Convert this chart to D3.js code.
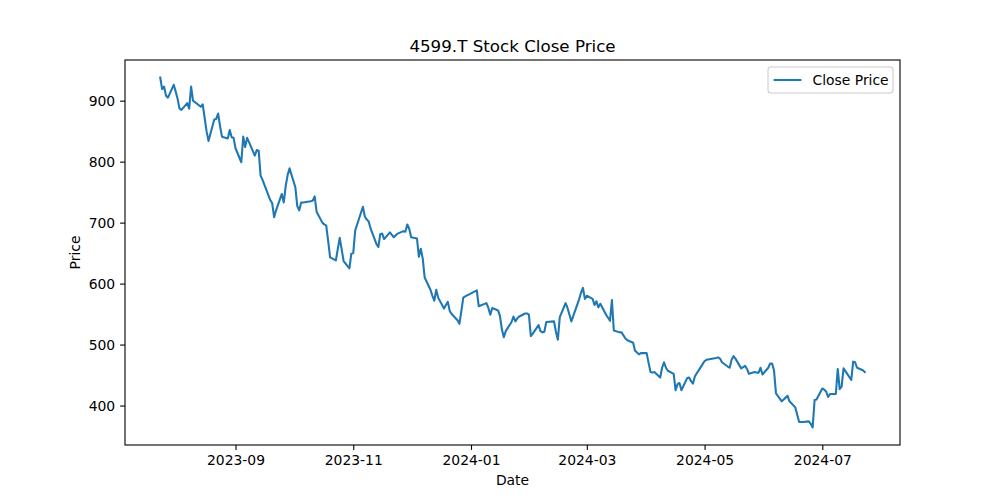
<!DOCTYPE html>
<html>
<head>
<meta charset="utf-8">
<script src="https://cdn.jsdelivr.net/npm/d3@7"></script>
<style>
  html, body { margin: 0; padding: 0; background: #fff; }
  svg { display: block; font-family: "DejaVu Sans", sans-serif; }
</style>
</head>
<body>
<svg id="chart" width="1000" height="500"></svg>
<script>
const chartTitle = "4599.T Stock Close Price";
const seriesName = "Close Price";
const xLabel = "Date";
const yLabel = "Price";

const dates = [
  "2023-07-24","2023-07-25","2023-07-26","2023-07-27","2023-07-28","2023-07-31",
  "2023-08-01","2023-08-02","2023-08-03","2023-08-04","2023-08-07","2023-08-08","2023-08-09","2023-08-10",
  "2023-08-14","2023-08-15","2023-08-16","2023-08-17","2023-08-18","2023-08-21","2023-08-22","2023-08-23",
  "2023-08-24","2023-08-25","2023-08-28","2023-08-29","2023-08-30","2023-08-31",
  "2023-09-01","2023-09-04","2023-09-05","2023-09-06","2023-09-07","2023-09-08","2023-09-11","2023-09-12",
  "2023-09-13","2023-09-14","2023-09-15","2023-09-19","2023-09-20","2023-09-21","2023-09-22","2023-09-25",
  "2023-09-26","2023-09-27","2023-09-28","2023-09-29",
  "2023-10-02","2023-10-03","2023-10-04","2023-10-05","2023-10-06","2023-10-10","2023-10-11","2023-10-12",
  "2023-10-13","2023-10-16","2023-10-17","2023-10-18","2023-10-19","2023-10-20","2023-10-23","2023-10-24",
  "2023-10-25","2023-10-26","2023-10-27","2023-10-30","2023-10-31",
  "2023-11-01","2023-11-02","2023-11-06","2023-11-07","2023-11-08","2023-11-09","2023-11-10","2023-11-13",
  "2023-11-14","2023-11-15","2023-11-16","2023-11-17","2023-11-20","2023-11-21","2023-11-22","2023-11-24",
  "2023-11-27","2023-11-28","2023-11-29","2023-11-30",
  "2023-12-01","2023-12-04","2023-12-05","2023-12-06","2023-12-07","2023-12-08","2023-12-11","2023-12-12",
  "2023-12-13","2023-12-14","2023-12-15","2023-12-18","2023-12-19","2023-12-20","2023-12-21","2023-12-22",
  "2023-12-25","2023-12-26","2023-12-27","2023-12-28","2023-12-29",
  "2024-01-04","2024-01-05","2024-01-09","2024-01-10","2024-01-11","2024-01-12","2024-01-15","2024-01-16",
  "2024-01-17","2024-01-18","2024-01-19","2024-01-22","2024-01-23","2024-01-24","2024-01-25","2024-01-26",
  "2024-01-29","2024-01-30","2024-01-31",
  "2024-02-01","2024-02-02","2024-02-05","2024-02-06","2024-02-07","2024-02-08","2024-02-09","2024-02-13",
  "2024-02-14","2024-02-15","2024-02-16","2024-02-19","2024-02-20","2024-02-21","2024-02-22","2024-02-26",
  "2024-02-27","2024-02-28","2024-02-29",
  "2024-03-01","2024-03-04","2024-03-05","2024-03-06","2024-03-07","2024-03-08","2024-03-11","2024-03-12",
  "2024-03-13","2024-03-14","2024-03-15","2024-03-18","2024-03-19","2024-03-21","2024-03-22","2024-03-25",
  "2024-03-26","2024-03-27","2024-03-28","2024-03-29",
  "2024-04-01","2024-04-02","2024-04-03","2024-04-04","2024-04-05","2024-04-08","2024-04-09","2024-04-10",
  "2024-04-11","2024-04-12","2024-04-15","2024-04-16","2024-04-17","2024-04-18","2024-04-19","2024-04-22",
  "2024-04-23","2024-04-24","2024-04-25","2024-04-26","2024-04-30",
  "2024-05-01","2024-05-02","2024-05-07","2024-05-08","2024-05-09","2024-05-10","2024-05-13","2024-05-14",
  "2024-05-15","2024-05-16","2024-05-17","2024-05-20","2024-05-21","2024-05-22","2024-05-23","2024-05-24",
  "2024-05-27","2024-05-28","2024-05-29","2024-05-30","2024-05-31",
  "2024-06-03","2024-06-04","2024-06-05","2024-06-06","2024-06-07","2024-06-10","2024-06-11","2024-06-12",
  "2024-06-13","2024-06-14","2024-06-17","2024-06-18","2024-06-19","2024-06-20","2024-06-21","2024-06-24",
  "2024-06-25","2024-06-26","2024-06-27","2024-06-28",
  "2024-07-01","2024-07-02","2024-07-03","2024-07-04","2024-07-05","2024-07-08","2024-07-09","2024-07-10",
  "2024-07-11","2024-07-12","2024-07-16","2024-07-17","2024-07-18","2024-07-19","2024-07-22","2024-07-23"
];

const closePrices = [
  938,919,923,908,905,926,
  915,903,887,885,896,887,923,900,
  890,894,872,850,834,869,870,879,
  858,841,838,852,840,839,
  822,799,841,824,839,832,810,819,
  818,777,770,737,732,709,720,747,
  733,760,778,789,
  758,727,720,733,733,735,736,743,
  718,700,697,695,670,643,638,657,
  675,656,637,625,649,
  650,687,726,710,705,702,690,665,
  660,681,682,673,684,680,676,682,
  686,685,697,690,
  676,674,644,657,641,610,590,580,
  572,590,577,559,565,570,555,550,
  540,534,555,577,579,
  589,563,568,560,549,560,556,547,
  525,512,522,537,546,538,543,546,
  551,551,549,
  514,518,532,522,520,521,537,538,
  521,508,545,568,560,549,538,574,
  585,593,575,
  580,575,565,571,561,567,549,544,
  539,573,523,520,520,510,507,503,
  490,487,484,486,
  486,470,455,454,455,446,462,471,
  462,457,452,425,435,437,425,445,
  446,440,436,448,468,
  473,475,478,479,477,471,464,462,
  475,481,477,461,463,465,460,452,
  455,454,454,462,451,
  462,469,469,457,420,407,410,413,
  416,407,397,385,373,373,373,374,
  370,364,409,410,
  428,426,423,414,419,419,460,427,
  431,461,442,472,471,462,458,455
];

const yTicks = [400, 500, 600, 700, 800, 900];
const xTickLabels = ["2023-09","2023-11","2024-01","2024-03","2024-05","2024-07"];

const parse = d3.timeParse("%Y-%m-%d");
const parseMonth = d3.timeParse("%Y-%m");
const data = dates.map((d, i) => ({ date: parse(d), value: closePrices[i] }));

const W = 1000, H = 500;
const m = { left: 125, right: 900, top: 60, bottom: 445 };

const xExt = d3.extent(data, d => d.date);
const xSpan = xExt[1] - xExt[0];
const x = d3.scaleTime()
  .domain([new Date(+xExt[0] - 0.05 * xSpan), new Date(+xExt[1] + 0.05 * xSpan)])
  .range([m.left, m.right]);

const yExt = d3.extent(data, d => d.value);
const ySpan = yExt[1] - yExt[0];
const y = d3.scaleLinear()
  .domain([yExt[0] - 0.05 * ySpan, yExt[1] + 0.05 * ySpan])
  .range([m.bottom, m.top]);

const svg = d3.select("#chart");
svg.append("rect").attr("width", W).attr("height", H).attr("fill", "#fff");

const fs = 13.9;

// line
const line = d3.line().x(d => x(d.date)).y(d => y(d.value));
svg.append("path")
  .datum(data)
  .attr("fill", "none")
  .attr("stroke", "#1f77b4")
  .attr("stroke-width", 2.08)
  .attr("stroke-linejoin", "round")
  .attr("stroke-linecap", "square")
  .attr("d", line);

// axes
const xAxis = d3.axisBottom(x)
  .tickValues(xTickLabels.map(parseMonth))
  .tickFormat(d3.timeFormat("%Y-%m"))
  .tickSize(4.9).tickPadding(4.9);
const gx = svg.append("g").attr("transform", `translate(0,${m.bottom})`).call(xAxis);

const yAxis = d3.axisLeft(y)
  .tickValues(yTicks)
  .tickSize(4.9).tickPadding(4.9);
const gy = svg.append("g").attr("transform", `translate(${m.left},0)`).call(yAxis);

[gx, gy].forEach(g => {
  g.select(".domain").remove();
  g.selectAll(".tick line").attr("stroke", "#000").attr("stroke-width", 1.1);
  g.selectAll(".tick text")
    .attr("fill", "#000")
    .style("font-family", "'DejaVu Sans', sans-serif")
    .style("font-size", fs + "px");
});

// frame
svg.append("rect")
  .attr("x", m.left).attr("y", m.top)
  .attr("width", m.right - m.left).attr("height", m.bottom - m.top)
  .attr("fill", "none").attr("stroke", "#000").attr("stroke-width", 1.1);

// title
svg.append("text")
  .attr("x", (m.left + m.right) / 2).attr("y", 52)
  .attr("text-anchor", "middle")
  .style("font-size", "16.7px")
  .text(chartTitle);

// axis labels
svg.append("text")
  .attr("x", (m.left + m.right) / 2).attr("y", 485)
  .attr("text-anchor", "middle")
  .style("font-size", fs + "px")
  .text(xLabel);

svg.append("text")
  .attr("transform", `translate(80,${(m.top + m.bottom) / 2}) rotate(-90)`)
  .attr("text-anchor", "middle")
  .style("font-size", fs + "px")
  .text(yLabel);

// legend
const lg = svg.append("g");
const lx = 768, ly = 67, lw = 125, lh = 26;
lg.append("rect")
  .attr("x", lx).attr("y", ly).attr("width", lw).attr("height", lh)
  .attr("rx", 3).attr("ry", 3)
  .attr("fill", "#fff").attr("fill-opacity", 0.8)
  .attr("stroke", "#ccc").attr("stroke-width", 1.1);
lg.append("line")
  .attr("x1", lx + 5.6).attr("x2", lx + 5.6 + 27.8)
  .attr("y1", ly + lh / 2).attr("y2", ly + lh / 2)
  .attr("stroke", "#1f77b4").attr("stroke-width", 2.08);
lg.append("text")
  .attr("x", lx + 5.6 + 27.8 + 11.1).attr("y", ly + lh / 2)
  .attr("dy", "0.35em")
  .style("font-size", fs + "px")
  .text(seriesName);
</script>
</body>
</html>
